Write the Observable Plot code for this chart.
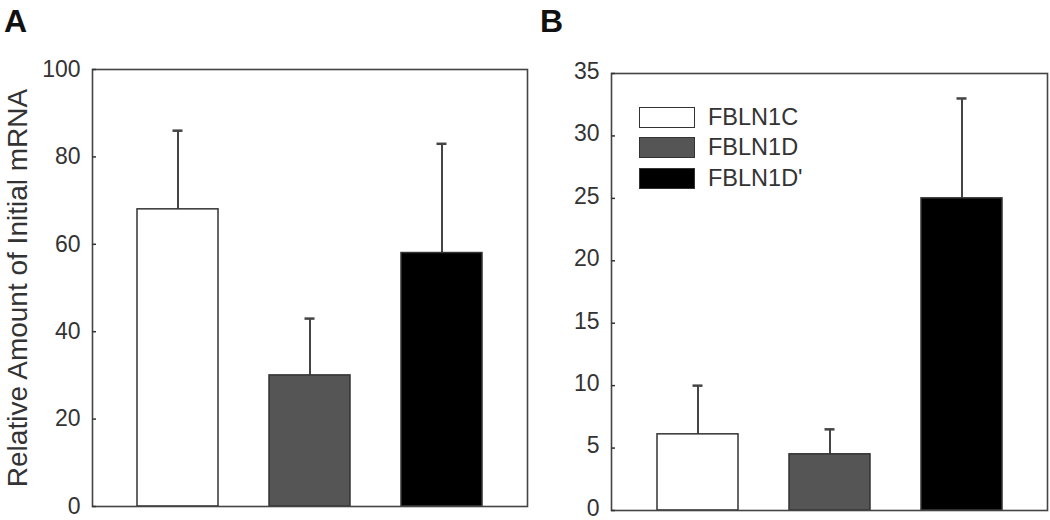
<!DOCTYPE html>
<html>
<head>
<meta charset="utf-8">
<script src="https://cdn.jsdelivr.net/npm/d3@7"></script>
<script src="https://cdn.jsdelivr.net/npm/@observablehq/plot@0.6"></script>
<style>
  body { margin: 0; background: #fff; }
  #wrap { position: relative; width: 1050px; height: 520px; font-family: "Liberation Sans", Arial, sans-serif; color: #222; }
  .panel { position: absolute; top: 0; }
  .letter { position: absolute; font-weight: bold; font-size: 32px; line-height: 1; color: #111; }
  #legend { position: absolute; left: 639px; top: 102px; font-size: 23.5px; color: #333; }
  .item { display: flex; align-items: center; height: 30.5px; }
  .sw { width: 54px; height: 19px; border: 1.5px solid #333; margin-right: 13px; }
</style>
</head>
<body>
<div id="wrap">
  <div class="panel" id="panelA" style="left:0px"></div>
  <div class="panel" id="panelB" style="left:530px"></div>
  <div class="letter" style="left:4px;top:5px">A</div>
  <div class="letter" style="left:540px;top:5px">B</div>
  <div id="legend"></div>
</div>
<script>
// ---- data ----
const genes = ["FBLN1C", "FBLN1D", "FBLN1D'"];
const meanA = [68, 30, 58];
const errA = [18, 13, 25];
const meanB = [6.1, 4.5, 25];
const errB = [3.9, 2.0, 8.0];
const ticksA = [0, 20, 40, 60, 80, 100];
const ticksB = [0, 5, 10, 15, 20, 25, 30, 35];
const yLabelA = "Relative Amount of Initial mRNA";

const fills = ["#ffffff", "#555555", "#000000"];

function panel(means, errs, yMax, ticks, dims, label) {
  const rows = genes.map((g, i) => ({gene: g, mean: means[i], err: errs[i]}));
  const marks = [
    Plot.ruleX(rows, {x: "gene", y1: "mean", y2: d => d.mean + d.err, stroke: "#444", strokeWidth: 2}),
    Plot.tickY(rows, {x: "gene", y: d => d.mean + d.err, stroke: "#444", strokeWidth: 2.5, insetLeft: 35.5, insetRight: 35.5}),
    Plot.barY(rows, {x: "gene", y: "mean", fill: "gene", stroke: "#333", strokeWidth: 1.5}),
    Plot.frame({stroke: "#444", strokeWidth: 1.6}),
    // inward tick marks
    Plot.axisY({ticks: ticks, tickSize: -4, tickFormat: () => "", strokeWidth: 1.5, label: null}),
    // tick labels
    Plot.axisY({ticks: ticks, tickSize: 0, tickPadding: 12, dy: dims.dy || 0, fontSize: 23, label: null})
  ];
  if (label) {
    marks.push(Plot.axisY({
      ticks: [], tickSize: 0, label: label, labelAnchor: "center", labelOffset: dims.ml - 7,
      labelArrow: "none", fontSize: 28
    }));
  }
  return Plot.plot({
    width: dims.width,
    height: 520,
    marginLeft: dims.ml,
    marginRight: dims.mr,
    marginTop: dims.mt,
    marginBottom: dims.mb,
    style: {fontFamily: "'Liberation Sans', Arial, sans-serif", fontSize: "23px", color: "#333", background: "white"},
    x: {domain: genes, paddingInner: 0.39, paddingOuter: 0.336, axis: null},
    y: {domain: [0, yMax]},
    color: {domain: genes, range: fills},
    marks
  });
}

document.getElementById("panelA").append(
  panel(meanA, errA, 100, ticksA, {width: 535, ml: 92, mr: 8, mt: 69, mb: 14}, yLabelA)
);
document.getElementById("panelB").append(
  panel(meanB, errB, 35, ticksB, {width: 520, ml: 81, mr: 3, mt: 73, mb: 10, dy: -2}, null)
);

// legend (panel B)
const legend = document.getElementById("legend");
genes.forEach((g, i) => {
  const item = document.createElement("div");
  item.className = "item";
  const sw = document.createElement("div");
  sw.className = "sw";
  sw.style.background = fills[i];
  const t = document.createElement("span");
  t.textContent = g;
  item.append(sw, t);
  legend.append(item);
});
</script>
</body>
</html>
